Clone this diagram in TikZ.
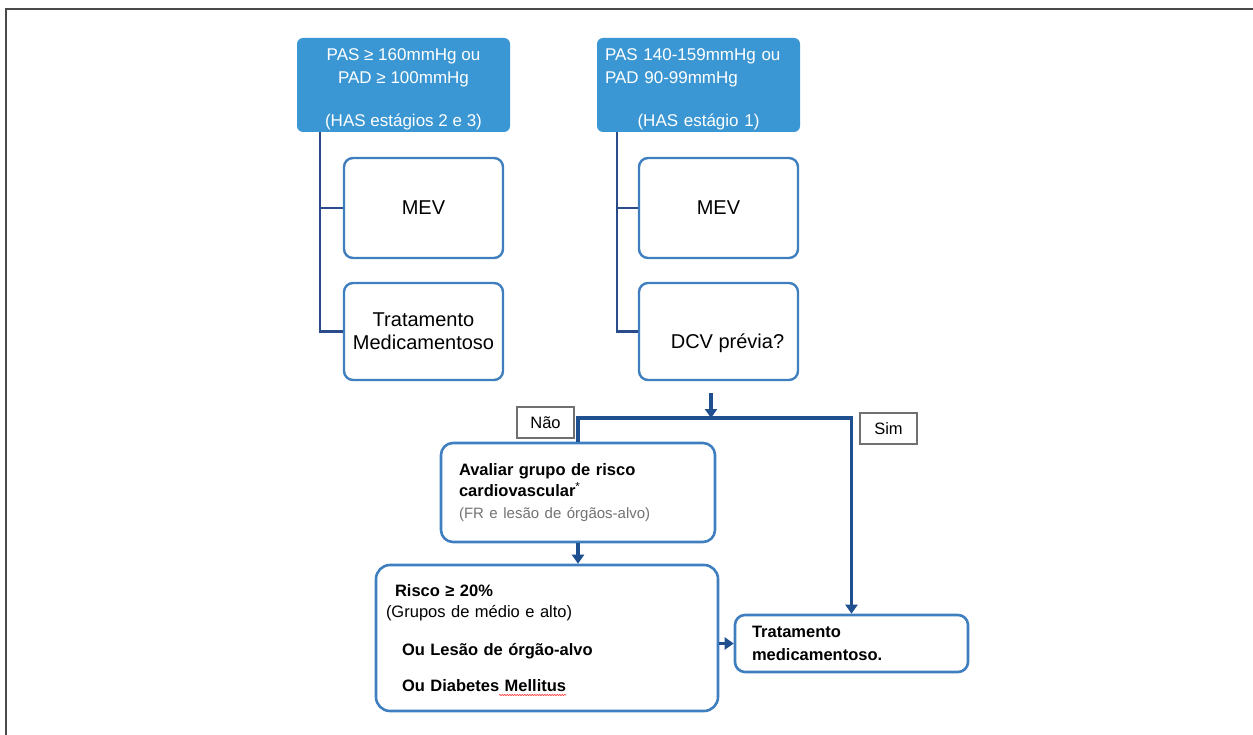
\documentclass[tikz,border=0pt]{standalone}
\usepackage{fontspec}
\setmainfont{Liberation Sans}
\usepackage{tikz}
\usetikzlibrary{arrows.meta,decorations.pathmorphing}
\definecolor{hasblue}{HTML}{3B97D3}
\definecolor{boxline}{HTML}{3F7FBF}
\definecolor{navy}{HTML}{1F4F8E}
\definecolor{brk}{HTML}{2B4C8A}
\definecolor{tagline}{HTML}{707070}
\definecolor{framegray}{HTML}{4A4A4A}

\begin{document}
\begin{tikzpicture}[x=1pt,y=-1pt,font=\fontsize{16.5}{21}\selectfont,
  hasbox/.style={fill=hasblue,rounded corners=6pt,inner sep=0pt,minimum height=94pt},
  hastext/.style={text=white,inner sep=0pt,font=\fontsize{17}{23}\selectfont},
  optbox/.style={draw=boxline,line width=2.4pt,fill=white,rounded corners=9pt,inner sep=0pt,
    minimum width=159pt,align=center,font=\fontsize{20}{23}\selectfont},
  bigbox/.style={draw=boxline,line width=2.6pt,fill=white,rounded corners=14pt,align=left},
  tagbox/.style={draw=tagline,line width=1.2pt,fill=white,inner sep=0pt,minimum width=57pt,minimum height=31pt},
  bracket/.style={draw=brk,line width=2.6pt},
  flow/.style={draw=navy,line width=3.6pt,-{Triangle[width=12pt,length=9pt]}}]
\useasboundingbox (0,0) rectangle (1253,735);
\draw[draw=framegray,line width=1.5pt] (6,735) -- (6,9) -- (1253,9);

% stages
\node[hasbox,minimum width=213pt] (has23) at (403.5,85) {};
\node[hastext,align=center] (has23txt) at ([yshift=-4pt]has23.center)
  {PAS ≥ 160mmHg ou\\PAD ≥ 100mmHg\\[20pt](HAS estágios 2 e 3)};
\node[hasbox,minimum width=203pt] (has1) at (698.5,85) {};
\node[hastext,text width=187pt,align=left] (has1txt) at ([yshift=-4pt]has1.center)
  {PAS 140-159mmHg ou\\PAD 90-99mmHg\\[20pt]\makebox[\hsize]{(HAS estágio 1)}};

% stage 2 and 3
\node[optbox,minimum height=100pt] (mevL) at (423.5,208) {MEV};
\node[optbox,minimum height=97pt] (medL) at (423.5,331.5) {Tratamento\\Medicamentoso};
\coordinate (trunkL) at ([xshift=23pt]has23.south west);
\draw[bracket] (trunkL) |- (medL.west);
\draw[bracket] (mevL.west) -- (mevL.west -| trunkL);

% stage 1
\node[optbox,minimum height=100pt] (mevR) at (718.5,208) {MEV};
\node[optbox,minimum height=97pt] (dcv) at (718.5,331.5) {};
\node[font=\fontsize{20}{23}\selectfont] (dcvq) at ([xshift=9pt,yshift=-12pt]dcv.center) {DCV prévia?};
\coordinate (trunkR) at ([xshift=20pt]has1.south west);
\draw[bracket] (trunkR) |- (dcv.west);
\draw[bracket] (mevR.west) -- (mevR.west -| trunkR);

\node[tagbox] (nao) at (545.5,422.5) {Não};
\node[tagbox] (sim) at (888.5,428.5) {Sim};

\node[bigbox,rounded corners=12pt,minimum width=274pt,minimum height=99pt,text width=238pt,
  inner xsep=18pt,font=\fontsize{16.5}{21.5}\selectfont] (aval) at (578,492.5)
  {\textbf{Avaliar grupo de risco}\\\textbf{cardiovascular}\textsuperscript{*}\\
   {\fontsize{15}{21.5}\selectfont\color{black!55}(FR e lesão de órgãos-alvo)}};
\node[bigbox,minimum width=342pt,minimum height=146pt,text width=322pt,inner xsep=10pt] (risco) at (547,638)
  {\hspace*{9pt}\textbf{Risco ≥ 20\%}\\
   (Grupos de médio e alto)\\[17pt]
   \hspace*{16pt}\textbf{Ou Lesão de órgão-alvo}\\[15pt]
   \hspace*{16pt}\textbf{Ou Diabetes Mellitus}};
\draw[red!75,line width=0.6pt,decorate,decoration={snake,amplitude=0.7pt,segment length=2.5pt}]
  (499,695) -- (566,695);
\node[bigbox,rounded corners=10pt,minimum width=233pt,minimum height=57pt,text width=199pt,
  inner xsep=17pt,font=\fontsize{16.5}{23}\selectfont] (trat) at (851.5,643.5)
  {\textbf{Tratamento}\\\textbf{medicamentoso.}};

% decision
\coordinate (dcvout) at (711,393);
\coordinate (split) at (711,418);
\draw[flow] (dcvout) -- (split);
\draw[flow] (aval.north) |- (split) -| (trat.north);
\draw[flow] (aval.south) -- (aval.south |- risco.north);
\draw[flow] (risco.east |- trat.west) -- (trat.west);
\end{tikzpicture}
\end{document}
